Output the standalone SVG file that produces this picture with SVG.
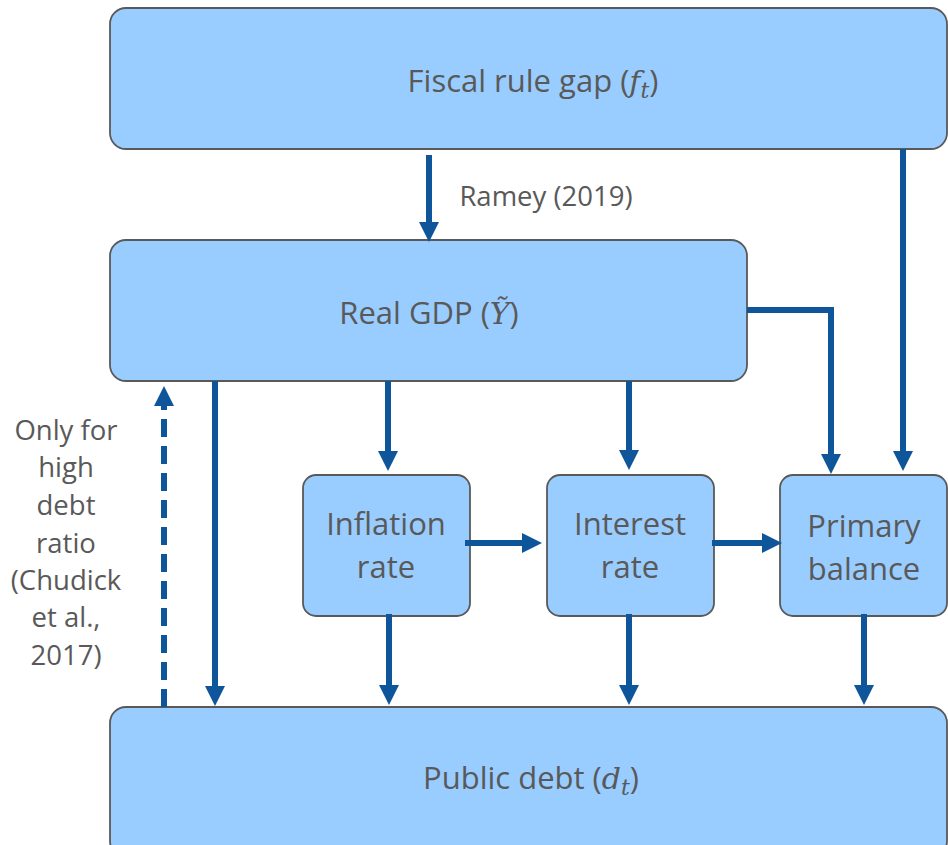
<svg xmlns="http://www.w3.org/2000/svg" width="948" height="845" viewBox="0 0 948 845">
<style>
.box{fill:#99CCFF;stroke:#595959;stroke-width:1.8}
.t{font-family:"Open Sans","Noto Sans",sans-serif;fill:#595959;text-anchor:middle}
.big{font-size:31px}
.sm{font-size:27.5px}
.m{font-family:"DejaVu Serif","Liberation Serif",serif;font-style:italic}
.c{fill:none;stroke:#0F559A;stroke-width:6}
</style>
<defs>
<marker id="ah" markerUnits="userSpaceOnUse" viewBox="0 0 20 20" markerWidth="20" markerHeight="20" refX="10" refY="10" orient="auto">
<path d="M0,0 L20,10 L0,20 z" fill="#0F559A"/>
</marker>
</defs>
<rect width="948" height="845" fill="#ffffff"/>
<g id="fiscal">
<rect class="box" x="110" y="8" width="837" height="141" rx="16"/>
<text class="t big" x="533" y="92">Fiscal rule gap (<tspan class="m" font-size="30">f</tspan><tspan class="m" font-size="22" dy="6">t</tspan><tspan dy="-6">)</tspan></text>
</g>
<g id="gdp">
<rect class="box" x="110" y="240" width="637" height="141" rx="16"/>
<text class="t big" x="429" y="324">Real GDP (<tspan class="m" font-size="30">Ỹ</tspan>)</text>
</g>
<g id="inflation">
<rect class="box" x="303" y="475" width="167" height="141" rx="13"/>
<text class="t big" x="386" y="535">Inflation</text>
<text class="t big" x="386" y="578">rate</text>
</g>
<g id="interest">
<rect class="box" x="547" y="475" width="167" height="141" rx="13"/>
<text class="t big" x="630" y="535">Interest</text>
<text class="t big" x="630" y="578">rate</text>
</g>
<g id="primary">
<rect class="box" x="780" y="475" width="167" height="141" rx="13"/>
<text class="t big" x="864" y="537">Primary</text>
<text class="t big" x="864" y="580">balance</text>
</g>
<g id="debt">
<rect class="box" x="110" y="707" width="837" height="150" rx="16"/>
<text class="t big" x="531" y="789">Public debt (<tspan class="m" font-size="30">d</tspan><tspan class="m" font-size="22" dy="6">t</tspan><tspan dy="-6">)</tspan></text>
</g>
<g id="labels">
<text class="t sm" x="546" y="206">Ramey (2019)</text>
<text class="t sm" x="66" y="440">Only for</text>
<text class="t sm" x="66" y="477">high</text>
<text class="t sm" x="66" y="515">debt</text>
<text class="t sm" x="66" y="553">ratio</text>
<text class="t sm" x="66" y="590">(Chudick</text>
<text class="t sm" x="66" y="627">et al.,</text>
<text class="t sm" x="66" y="665">2017)</text>
</g>
<g id="connectors">
<line class="c" x1="429" y1="155" x2="429" y2="232" marker-end="url(#ah)"/>
<line class="c" x1="903" y1="149" x2="903" y2="461" marker-end="url(#ah)"/>
<path class="c" d="M747,310 H831 V464" marker-end="url(#ah)"/>
<line class="c" x1="388" y1="381" x2="388" y2="461" marker-end="url(#ah)"/>
<line class="c" x1="629" y1="381" x2="629" y2="460" marker-end="url(#ah)"/>
<line class="c" x1="215" y1="381" x2="215" y2="696" marker-end="url(#ah)"/>
<line class="c" x1="164" y1="707" x2="164" y2="396" stroke-dasharray="18 9" marker-end="url(#ah)"/>
<line class="c" x1="465" y1="543" x2="532" y2="543" marker-end="url(#ah)"/>
<line class="c" x1="712" y1="543" x2="772" y2="543" marker-end="url(#ah)"/>
<line class="c" x1="389" y1="614" x2="389" y2="695" marker-end="url(#ah)"/>
<line class="c" x1="629" y1="614" x2="629" y2="695" marker-end="url(#ah)"/>
<line class="c" x1="864" y1="614" x2="864" y2="695" marker-end="url(#ah)"/>
</g>
</svg>
